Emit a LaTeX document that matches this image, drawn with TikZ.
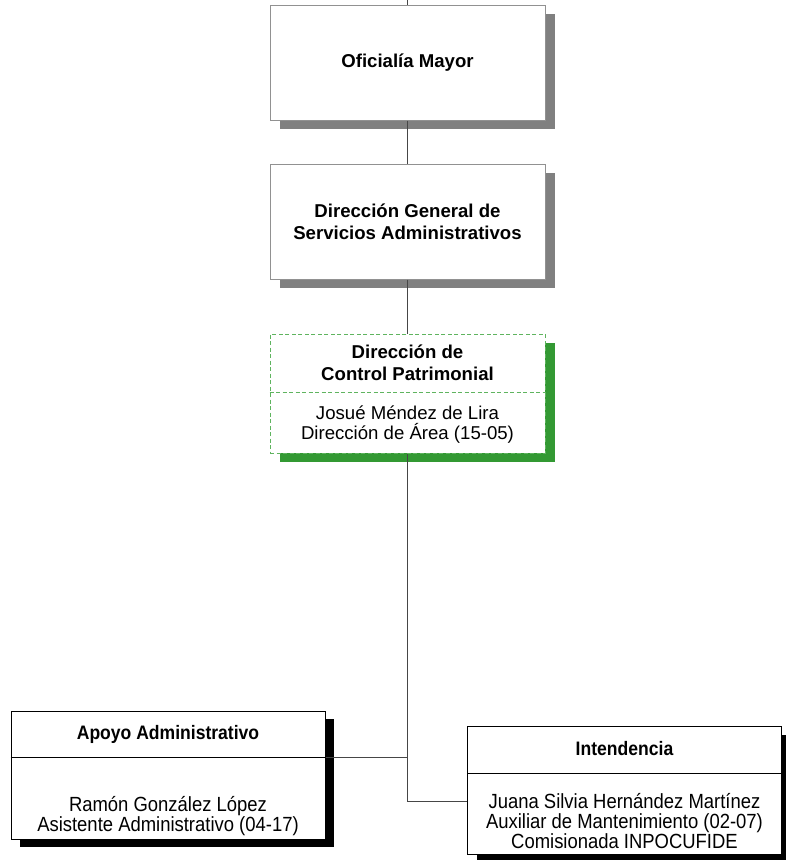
\documentclass[tikz,border=0pt]{standalone}
\usepackage{fontspec}
\setmainfont{Liberation Sans}
\newfontfamily\narrowfont[FakeStretch=0.9]{Liberation Sans}
\usetikzlibrary{shadows}
\definecolor{grisSombra}{RGB}{128,128,128}
\definecolor{grisBorde}{RGB}{145,145,145}
\definecolor{grisLinea}{RGB}{70,70,70}
\definecolor{verdeSombra}{RGB}{51,153,51}
\definecolor{verdeBorde}{RGB}{95,180,95}
\tikzset{
  unidad/.style={draw=grisBorde,fill=white,line width=1pt,minimum width=275pt,minimum height=115pt,
    align=center,font=\bfseries\fontsize{18.6}{22}\selectfont,
    drop shadow={shadow xshift=10pt,shadow yshift=-9pt,fill=grisSombra,opacity=1}},
  area/.style={draw=verdeBorde,dash pattern=on 4pt off 2.5pt,fill=white,line width=1pt,
    minimum width=275pt,minimum height=119pt,
    drop shadow={shadow xshift=10pt,shadow yshift=-9pt,fill=verdeSombra,opacity=1}},
  puesto/.style={draw=black,fill=white,line width=1pt,minimum width=314pt,minimum height=128pt,
    drop shadow={shadow xshift=9pt,shadow yshift=-8pt,fill=black,opacity=1}},
  titulo/.style={align=center,inner sep=0pt,font=\bfseries\fontsize{18.6}{21.5}\selectfont},
  titulochico/.style={align=center,inner sep=0pt,font=\narrowfont\bfseries\fontsize{19.5}{21}\selectfont},
  nombre/.style={align=center,inner sep=0pt,font=\fontsize{18.6}{20}\selectfont},
  nombrechico/.style={align=center,inner sep=0pt,font=\narrowfont\fontsize{20.5}{19.8}\selectfont},
  linea/.style={draw=grisLinea,line width=1pt},
}
\begin{document}
\begin{tikzpicture}[x=1pt,y=-1pt]
\useasboundingbox (0,0) rectangle (786,860);
% cajas superiores
\node[unidad] (oficialia) at (407.5,62.5) {Oficialía Mayor};
\node[unidad] (dgsa) at (407.5,221.5) {Dirección General de\\Servicios Administrativos};
% direccion de area
\node[area] (dcp) at (407.5,393.5) {};
\coordinate (dcpdiv) at (0,392);
\draw[verdeBorde,dash pattern=on 4pt off 2.5pt,line width=1pt] (dcp.west |- dcpdiv) -- (dcp.east |- dcpdiv);
\node[titulo] (dcptit) at (407.5,363) {Dirección de\\Control Patrimonial};
\node[nombre] (dcpnom) at (407.5,425) {Josué Méndez de Lira\\Dirección de Área (15-05)};
% puestos
\node[puesto] (apoyo) at (168,775) {};
\coordinate (apoyodiv) at (0,757);
\draw[black,line width=1pt] (apoyo.west |- apoyodiv) -- (apoyo.east |- apoyodiv);
\node[titulochico] (apoyotit) at (168,734) {Apoyo Administrativo};
\node[nombrechico] (apoyonom) at (168,816) {Ramón González López\\Asistente Administrativo (04-17)};
\node[puesto] (intend) at (624.5,790.5) {};
\coordinate (intenddiv) at (0,773);
\draw[black,line width=1pt] (intend.west |- intenddiv) -- (intend.east |- intenddiv);
\node[titulochico] (intendtit) at (624.5,749) {Intendencia};
\node[nombrechico] (intendnom) at (624.5,821) {Juana Silvia Hernández Martínez\\Auxiliar de Mantenimiento (02-07)\\Comisionada INPOCUFIDE};
% conectores
\coordinate (arriba) at (407.5,0);
\coordinate (codo) at (407.5,801);
\draw[linea] (arriba) -- (oficialia.north);
\draw[linea] (oficialia.south) -- (dgsa.north);
\draw[linea] (dgsa.south) -- (dcp.north);
\draw[linea] (dcp.south) -- (codo) -- (intend.west |- codo);
\draw[linea] (apoyo.east |- apoyodiv) -- (codo |- apoyodiv);
\end{tikzpicture}
\end{document}
